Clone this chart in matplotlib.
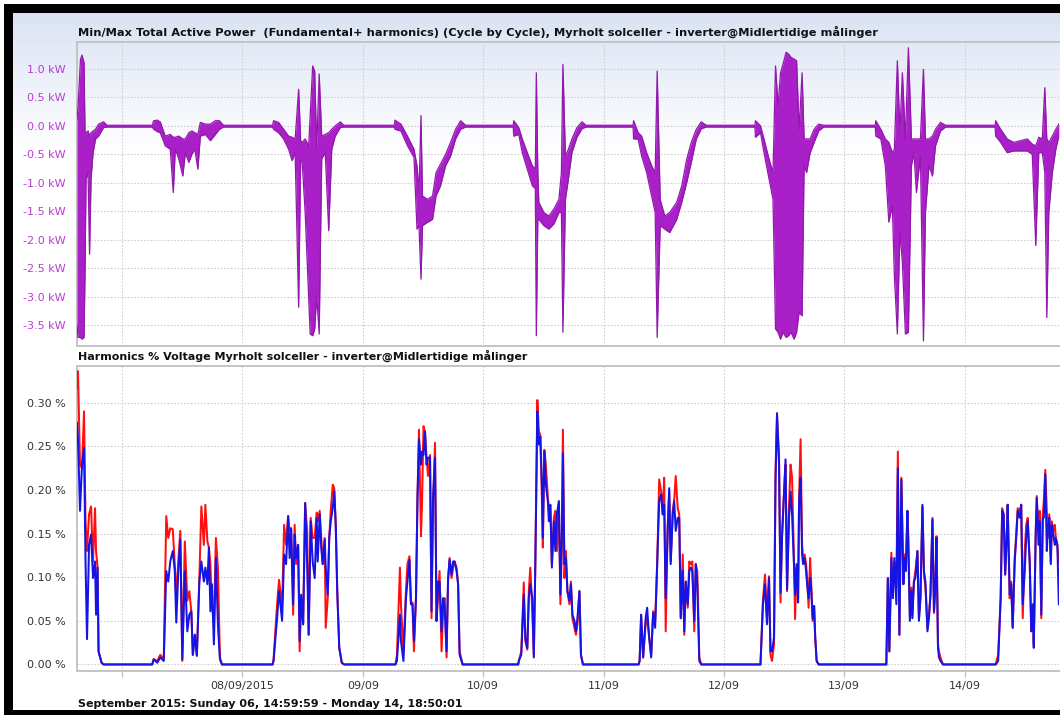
import numpy as np
import pandas as pd
import matplotlib
matplotlib.use("Agg")
import matplotlib.pyplot as plt
import matplotlib.dates as mdates
from matplotlib.patches import Rectangle
from matplotlib.ticker import FixedLocator, FuncFormatter

# ---- data (hours counted from 06/09/2015 00:00) ----
# top panel: min / max total active power per cycle, kW
power_hours = [
    15.0, 15.2, 15.7, 16.0, 16.4, 16.6, 16.8, 17.2, 17.5, 17.8, 18.2, 18.7, 19.3, 20.3, 21.0,
    30.0,
    30.3, 31.0, 31.6, 32.6, 33.6, 34.2, 34.6, 35.3, 36.1, 36.6, 37.3, 37.9, 38.5, 39.1, 39.6, 40.6, 41.6, 42.6, 43.4, 44.2,
    54.0,
    54.2, 55.2, 56.2, 57.2, 57.9, 58.5, 59.2, 59.6, 59.9, 60.5, 61.2, 61.5, 62.0, 62.4, 62.8, 63.3, 63.8, 64.5, 65.2, 65.8, 66.5, 67.5, 68.2,
    78.3,
    78.4, 79.6, 80.9, 82.2, 82.8, 83.2, 83.6, 83.9, 84.9, 85.9, 86.6, 87.5, 88.5, 89.5, 90.5, 91.5, 92.5,
    102.0,
    102.1, 103.1, 103.8, 104.8, 105.8, 106.4, 106.6, 106.9, 107.1, 108.1, 109.1, 110.1, 111.1, 111.6, 111.9, 112.4, 113.0, 113.7, 114.7, 115.7, 116.5,
    125.9,
    126.0, 126.9, 127.6, 128.6, 129.6, 130.3, 130.7, 131.3, 132.2, 133.2, 134.6, 135.6, 136.6, 137.5, 138.5, 139.5, 140.5,
    150.2,
    150.3, 151.3, 152.0, 153.0, 153.8, 154.3, 154.8, 155.3, 155.8, 156.4, 156.9, 157.4, 158.0, 158.5, 159.0, 159.6, 160.0, 160.5, 161.2, 162.0, 162.9, 163.9,
    174.2,
    174.3, 175.3, 176.2, 176.9, 177.6, 178.0, 178.6, 179.1, 179.6, 180.2, 180.8, 181.4, 181.9, 182.4, 183.2, 183.8, 184.2, 184.9, 185.6, 186.2, 187.2, 188.2,
    198.1,
    198.2, 199.2, 200.5, 201.8, 203.2, 204.5, 205.5, 206.2, 206.8, 207.5, 208.0, 208.4, 208.8, 209.5, 210.2, 210.8,
]
power_max = [
    0.12, 0.32, 1.17, 1.24, 1.11, -0.12, -0.12, -0.09, -0.18, -0.12, -0.09, -0.06, 0.03, 0.07, 0.01,
    0.01,
    0.09, 0.10, 0.07, -0.18, -0.15, -0.20, -0.20, -0.18, -0.23, -0.23, -0.12, -0.09, -0.12, -0.15, 0.06, 0.03, 0.03, 0.09, 0.09, 0.01,
    0.01,
    0.09, 0.06, -0.06, -0.18, -0.20, -0.23, 0.64, -0.26, -0.29, -0.23, -0.35, 0.18, 1.05, 0.96, -0.41, 0.91, -0.18, -0.15, -0.12, -0.06, 0.0, 0.07, 0.01,
    0.01,
    0.10, 0.03, -0.18, -0.41, -0.70, -1.17, 0.18, -1.23, -1.29, -1.23, -0.82, -0.67, -0.50, -0.29, -0.06, 0.09, 0.01,
    0.01,
    0.09, -0.03, -0.23, -0.47, -0.70, -0.76, 0.93, -0.82, -1.34, -1.52, -1.58, -1.46, -1.29, -0.82, 1.08, -0.53, -0.41, -0.23, -0.03, 0.07, 0.01,
    0.01,
    0.09, -0.12, -0.18, -0.47, -0.70, -0.82, 0.96, -1.29, -1.58, -1.52, -1.34, -1.05, -0.58, -0.29, -0.06, 0.07, 0.01,
    0.01,
    0.09, 0.0, -0.23, -0.58, -0.82, 1.05, 0.35, 0.93, 1.08, 1.29, 1.26, 1.20, 1.17, 1.14, -0.06, 0.93, -0.23, -0.23, -0.23, -0.06, 0.03, 0.01,
    0.01,
    0.09, -0.06, -0.23, -0.29, -0.47, -0.41, 1.14, -0.12, 0.93, -0.23, 1.37, -0.23, -0.23, -0.23, -0.23, 0.99, -0.23, -0.23, -0.18, -0.06, 0.06, 0.01,
    0.01,
    0.09, -0.06, -0.23, -0.29, -0.26, -0.23, -0.32, -0.35, -0.20, -0.23, 0.67, -0.23, -0.29, -0.18, -0.06, 0.03,
]
power_min = [
    -3.50, -3.71, -3.71, -3.74, -3.71, -2.57, -0.93, -0.82, -2.25, -0.93, -0.47, -0.23, -0.18, -0.03, -0.02,
    -0.02,
    -0.06, -0.10, -0.12, -0.35, -0.41, -1.17, -0.41, -0.58, -0.88, -0.47, -0.64, -0.50, -0.41, -0.76, -0.18, -0.15, -0.26, -0.15, -0.06, -0.02,
    -0.02,
    -0.06, -0.12, -0.23, -0.41, -0.61, -0.47, -3.18, -0.58, -0.64, -1.52, -3.04, -3.65, -3.68, -3.56, -2.98, -3.65, -0.58, -0.47, -1.84, -0.41, -0.18, -0.03, -0.02,
    -0.02,
    -0.06, -0.09, -0.35, -0.55, -1.81, -1.75, -2.69, -1.75, -1.69, -1.64, -1.23, -1.05, -0.70, -0.53, -0.23, -0.06, -0.02,
    -0.02,
    -0.18, -0.15, -0.47, -0.76, -1.05, -1.10, -3.68, -1.64, -1.64, -1.75, -1.81, -1.72, -1.52, -1.52, -3.62, -1.29, -0.93, -0.47, -0.20, -0.05, -0.02,
    -0.02,
    -0.23, -0.23, -0.53, -0.82, -1.23, -1.52, -3.71, -1.75, -1.81, -1.87, -1.64, -1.34, -0.99, -0.64, -0.23, -0.05, -0.02,
    -0.02,
    -0.20, -0.12, -0.47, -0.93, -1.29, -3.56, -3.62, -3.74, -3.62, -3.71, -3.68, -3.62, -3.74, -3.62, -3.27, -3.33, -0.70, -0.82, -0.47, -0.29, -0.09, -0.02,
    -0.02,
    -0.18, -0.23, -0.70, -1.69, -1.40, -2.63, -3.65, -1.87, -2.39, -3.65, -3.62, -0.70, -0.47, -1.17, -0.53, -3.77, -1.52, -0.70, -0.88, -0.35, -0.09, -0.02,
    -0.02,
    -0.18, -0.29, -0.47, -0.44, -0.44, -0.44, -0.50, -2.10, -0.47, -0.47, -0.82, -3.36, -1.52, -0.82, -0.41, -0.18,
]

# bottom panel: harmonics % voltage, red and blue series
thd_hours = [
    15.0, 15.2, 15.6, 16.0, 16.4, 16.7, 17.0, 17.4, 17.8, 18.2, 18.6, 18.8, 19.1, 19.3, 19.9, 20.3,
    30.0,
    30.3, 31.0, 31.6, 32.3, 32.8, 33.2, 33.6, 34.1, 34.5, 34.8, 35.2, 35.6, 36.0, 36.5, 37.0, 37.4, 37.8, 38.1, 38.5, 38.9,
    39.4, 39.8, 40.3, 40.6, 41.0, 41.3, 41.6, 41.9, 42.3, 42.7, 43.1, 43.5, 43.9,
    54.0,
    54.2, 54.9, 55.3, 55.9, 56.3, 56.7, 57.1, 57.4, 57.7, 58.1, 58.4, 58.7, 59.1, 59.4, 59.7, 60.1, 60.5, 60.9, 61.2, 61.6,
    62.0, 62.4, 62.8, 63.0, 63.4, 63.7, 64.0, 64.4, 64.6, 65.0, 65.3, 65.6, 66.0, 66.3, 66.6, 66.9, 67.3, 67.8, 68.3,
    78.5,
    78.8, 79.4, 79.6, 80.1, 80.6, 80.9, 81.3, 81.6, 81.9, 82.2, 82.6, 82.9, 83.2, 83.6, 83.8, 84.1, 84.4, 84.7, 85.0, 85.4,
    85.7, 86.0, 86.4, 86.7, 87.0, 87.3, 87.7, 88.0, 88.3, 88.7, 89.0, 89.3, 89.7, 90.0, 90.3, 90.7, 91.0, 91.3, 91.9,
    103.0,
    103.1, 103.6, 104.1, 104.4, 104.8, 105.1, 105.4, 105.8, 106.1, 106.4, 106.8, 107.1, 107.4, 107.7, 107.9, 108.2, 108.5, 108.9, 109.1, 109.4,
    109.7, 110.1, 110.4, 110.7, 111.1, 111.4, 111.7, 111.9, 112.2, 112.5, 112.8, 113.2, 113.5, 113.8, 114.2, 114.5, 114.8, 115.2, 115.5, 115.9,
    127.0,
    127.2, 127.5, 127.9, 128.4, 128.7, 129.1, 129.5, 129.9, 130.3, 130.7, 131.1, 131.5, 131.8, 132.1, 132.4, 132.8, 133.1, 133.4, 133.8, 134.1,
    134.4, 134.8, 135.1, 135.4, 135.8, 136.1, 136.4, 136.8, 137.1, 137.4, 137.7, 138.1, 138.4, 138.7, 139.1, 139.5,
    151.3,
    151.8, 152.2, 152.6, 153.0, 153.3, 153.6, 154.0, 154.3, 154.6, 155.0, 155.3, 155.6, 156.0, 156.3, 156.6, 157.0, 157.3, 157.6, 158.0, 158.2,
    158.5, 158.8, 159.0, 159.3, 159.6, 159.8, 160.1, 160.4, 160.6, 160.9, 161.2, 161.4, 161.7, 162.0, 162.2, 162.5, 162.9,
    176.4,
    176.7, 177.0, 177.4, 177.7, 178.0, 178.4, 178.7, 179.0, 179.4, 179.8, 180.0, 180.3, 180.6, 180.8, 181.1, 181.4, 181.6, 181.9, 182.2, 182.6,
    182.9, 183.2, 183.6, 183.9, 184.2, 184.6, 184.9, 185.2, 185.6, 185.9, 186.2, 186.4, 186.7, 186.9, 187.2, 187.7,
    198.2,
    198.7, 199.2, 199.5, 199.8, 200.1, 200.4, 200.6, 201.0, 201.3, 201.6, 202.0, 202.3, 202.6, 203.0, 203.3, 203.6, 204.0, 204.3, 204.6, 205.0,
    205.3, 205.6, 205.8, 206.2, 206.4, 206.8, 207.0, 207.3, 207.6, 207.8, 208.1, 208.4, 208.6, 208.9, 209.2, 209.4, 209.7, 210.0, 210.2, 210.5, 210.8,
]
thd_blue = [
    0.277, 0.258, 0.176, 0.229, 0.248, 0.118, 0.029, 0.137, 0.149, 0.099, 0.118, 0.057, 0.111, 0.015, 0.002, 0,
    0,
    0.006, 0.002, 0.008, 0.004, 0.107, 0.095, 0.118, 0.130, 0.107, 0.048, 0.107, 0.143, 0.006, 0.107, 0.038, 0.057, 0.061, 0.011, 0.034, 0.010,
    0.095, 0.118, 0.095, 0.111, 0.092, 0.134, 0.061, 0.092, 0.023, 0.122, 0.046, 0.006, 0,
    0,
    0.004, 0.053, 0.084, 0.050, 0.126, 0.115, 0.170, 0.122, 0.156, 0.069, 0.149, 0.122, 0.137, 0.027, 0.080, 0.046, 0.185, 0.115, 0.034, 0.164,
    0.118, 0.099, 0.168, 0.118, 0.172, 0.134, 0.115, 0.143, 0.111, 0.080, 0.145, 0.164, 0.179, 0.198, 0.160, 0.084, 0.019, 0.002, 0,
    0,
    0.004, 0.057, 0.027, 0.004, 0.076, 0.095, 0.120, 0.069, 0.069, 0.027, 0.076, 0.191, 0.258, 0.229, 0.244, 0.240, 0.267, 0.229, 0.237, 0.237,
    0.061, 0.191, 0.237, 0.050, 0.095, 0.095, 0.038, 0.076, 0.069, 0.015, 0.099, 0.120, 0.103, 0.118, 0.118, 0.107, 0.092, 0.011, 0,
    0,
    0.004, 0.011, 0.080, 0.031, 0.019, 0.076, 0.092, 0.076, 0.008, 0.115, 0.290, 0.252, 0.261, 0.210, 0.145, 0.244, 0.206, 0.187, 0.164, 0.183,
    0.111, 0.164, 0.130, 0.172, 0.187, 0.080, 0.153, 0.242, 0.115, 0.122, 0.084, 0.073, 0.092, 0.057, 0.050, 0.038, 0.053, 0.084, 0.011, 0,
    0,
    0.004, 0.057, 0.008, 0.053, 0.065, 0.031, 0.008, 0.059, 0.042, 0.115, 0.187, 0.195, 0.172, 0.183, 0.076, 0.153, 0.202, 0.115, 0.172, 0.187,
    0.153, 0.168, 0.168, 0.053, 0.107, 0.038, 0.095, 0.069, 0.107, 0.111, 0.107, 0.050, 0.115, 0.092, 0.004, 0,
    0,
    0.069, 0.092, 0.046, 0.099, 0.015, 0.015, 0.031, 0.210, 0.288, 0.229, 0.082, 0.145, 0.198, 0.235, 0.086, 0.168, 0.198, 0.172, 0.111, 0.080,
    0.115, 0.071, 0.187, 0.214, 0.126, 0.115, 0.122, 0.107, 0.092, 0.076, 0.099, 0.088, 0.053, 0.067, 0.034, 0.004, 0,
    0,
    0.099, 0.015, 0.122, 0.076, 0.122, 0.069, 0.225, 0.034, 0.212, 0.092, 0.122, 0.107, 0.176, 0.130, 0.050, 0.084, 0.053, 0.095, 0.099, 0.130,
    0.050, 0.076, 0.183, 0.107, 0.095, 0.038, 0.053, 0.080, 0.166, 0.061, 0.092, 0.145, 0.019, 0.008, 0.004, 0,
    0,
    0.004, 0.076, 0.176, 0.172, 0.103, 0.145, 0.183, 0.080, 0.092, 0.042, 0.118, 0.145, 0.176, 0.168, 0.183, 0.069, 0.107, 0.145, 0.164, 0.115,
    0.038, 0.069, 0.019, 0.153, 0.191, 0.137, 0.164, 0.057, 0.168, 0.168, 0.218, 0.130, 0.153, 0.168, 0.115, 0.160, 0.149, 0.137, 0.145, 0.137, 0.069,
]
thd_red = [
    0.317, 0.336, 0.229, 0.225, 0.290, 0.164, 0.130, 0.172, 0.181, 0.118, 0.179, 0.130, 0.111, 0.015, 0.002, 0,
    0,
    0.006, 0.004, 0.011, 0.006, 0.170, 0.145, 0.156, 0.155, 0.115, 0.076, 0.118, 0.153, 0.004, 0.141, 0.073, 0.084, 0.061, 0.011, 0.034, 0.010,
    0.099, 0.181, 0.137, 0.183, 0.141, 0.134, 0.115, 0.069, 0.046, 0.145, 0.111, 0.008, 0,
    0,
    0.006, 0.069, 0.097, 0.065, 0.160, 0.137, 0.170, 0.153, 0.156, 0.057, 0.160, 0.115, 0.137, 0.015, 0.076, 0.046, 0.185, 0.153, 0.034, 0.168,
    0.145, 0.145, 0.174, 0.164, 0.176, 0.145, 0.115, 0.145, 0.042, 0.076, 0.145, 0.176, 0.206, 0.202, 0.160, 0.084, 0.019, 0.002, 0,
    0,
    0.011, 0.111, 0.069, 0.015, 0.084, 0.115, 0.124, 0.069, 0.071, 0.015, 0.076, 0.191, 0.269, 0.147, 0.183, 0.273, 0.267, 0.237, 0.216, 0.240,
    0.053, 0.183, 0.254, 0.050, 0.076, 0.107, 0.015, 0.061, 0.076, 0.008, 0.095, 0.122, 0.099, 0.111, 0.118, 0.111, 0.092, 0.015, 0,
    0,
    0.004, 0.015, 0.094, 0.027, 0.017, 0.084, 0.111, 0.061, 0.011, 0.115, 0.303, 0.267, 0.263, 0.191, 0.134, 0.246, 0.229, 0.191, 0.179, 0.179,
    0.115, 0.168, 0.176, 0.130, 0.187, 0.069, 0.137, 0.269, 0.099, 0.130, 0.084, 0.069, 0.095, 0.053, 0.042, 0.034, 0.046, 0.084, 0.011, 0,
    0,
    0.004, 0.057, 0.008, 0.046, 0.053, 0.031, 0.011, 0.061, 0.050, 0.115, 0.212, 0.198, 0.172, 0.214, 0.038, 0.160, 0.198, 0.118, 0.176, 0.189,
    0.216, 0.179, 0.172, 0.053, 0.126, 0.034, 0.095, 0.065, 0.118, 0.115, 0.118, 0.038, 0.115, 0.107, 0.008, 0,
    0,
    0.074, 0.103, 0.053, 0.101, 0.011, 0.004, 0.023, 0.221, 0.284, 0.240, 0.071, 0.149, 0.198, 0.229, 0.084, 0.183, 0.229, 0.214, 0.115, 0.052,
    0.111, 0.076, 0.191, 0.258, 0.137, 0.122, 0.126, 0.115, 0.099, 0.065, 0.122, 0.095, 0.050, 0.067, 0.031, 0.004, 0,
    0,
    0.099, 0.015, 0.128, 0.076, 0.118, 0.088, 0.244, 0.034, 0.214, 0.092, 0.126, 0.115, 0.176, 0.145, 0.053, 0.088, 0.057, 0.095, 0.107, 0.130,
    0.053, 0.076, 0.181, 0.103, 0.088, 0.042, 0.057, 0.080, 0.168, 0.059, 0.095, 0.147, 0.023, 0.015, 0.008, 0,
    0,
    0.011, 0.076, 0.179, 0.172, 0.103, 0.145, 0.183, 0.076, 0.095, 0.042, 0.122, 0.149, 0.179, 0.176, 0.183, 0.053, 0.130, 0.160, 0.168, 0.118,
    0.038, 0.065, 0.023, 0.153, 0.193, 0.137, 0.176, 0.053, 0.172, 0.187, 0.223, 0.176, 0.145, 0.172, 0.118, 0.164, 0.153, 0.160, 0.145, 0.137, 0.115,
]

power_ticks = [1.0, 0.5, 0.0, -0.5, -1.0, -1.5, -2.0, -2.5, -3.0, -3.5]
thd_ticks = [0.00, 0.05, 0.10, 0.15, 0.20, 0.25, 0.30]

title_top = ("Min/Max Total Active Power  (Fundamental+ harmonics) (Cycle by Cycle), "
             "Myrholt solceller - inverter@Midlertidige målinger")
title_bottom = "Harmonics % Voltage Myrholt solceller - inverter@Midlertidige målinger"
footer = "September 2015: Sunday 06, 14:59:59 - Monday 14, 18:50:01"

t_start = pd.Timestamp("2015-09-06 14:59:59")
t_end = pd.Timestamp("2015-09-14 18:50:01")
day0 = pd.Timestamp("2015-09-06")

power_t = (day0 + pd.to_timedelta(power_hours, unit="h")).to_numpy()
thd_t = (day0 + pd.to_timedelta(thd_hours, unit="h")).to_numpy()

plt.rcParams["font.family"] = ["DejaVu Sans"]

W, H = 1060, 715
fig = plt.figure(figsize=(W / 100, H / 100), dpi=100)
fig.patch.set_facecolor("white")


def px_box(left, top, right, bottom):
    return [left / W, 1 - bottom / H, (right - left) / W, (bottom - top) / H]


# frame + light blue gradient behind the upper panel
bg = fig.add_axes([0, 0, 1, 1])
bg.set_xlim(0, W)
bg.set_ylim(H, 0)
bg.axis("off")
bg.add_patch(Rectangle((4, 4), W, H, facecolor="black", edgecolor="none"))
bg.add_patch(Rectangle((13, 13), W, 697, facecolor="white", edgecolor="none"))
top_col = np.array([0.855, 0.886, 0.953])
grad = np.linspace(0, 1, 200)[:, None, None]
grad_img = top_col + (1 - top_col) * grad
bg.imshow(grad_img, extent=(13, W, 150, 13), aspect="auto", interpolation="bilinear", zorder=1)

grid_kw = dict(color="#cfcfcf", linestyle=(0, (1.5, 1.5)), linewidth=0.8)
spine_col = "#c4c4c4"

ax1 = fig.add_axes(px_box(77, 42, 1059, 346))
ax2 = fig.add_axes(px_box(77, 366, 1059, 671), sharex=ax1)
ax1.set_facecolor("none")
ax2.set_facecolor("white")

for ax in (ax1, ax2):
    for side in ("top", "left", "bottom"):
        ax.spines[side].set_color(spine_col)
        ax.spines[side].set_linewidth(1.4)
    ax.spines["right"].set_visible(False)
    ax.grid(True, **grid_kw)
    ax.set_axisbelow(True)

# top panel
purple = "#aa20c8"
ax1.fill_between(power_t, power_min, power_max, color=purple, lw=0, zorder=3)
ax1.plot(power_t, power_max, color="#9018aa", lw=0.9, zorder=4)
ax1.plot(power_t, power_min, color="#9018aa", lw=0.9, zorder=4)
ax1.set_ylim(-3.86, 1.47)
ax1.yaxis.set_major_locator(FixedLocator(power_ticks))
ax1.yaxis.set_major_formatter(FuncFormatter(lambda v, p: f"{v:.1f} kW"))
ax1.tick_params(axis="y", length=0, pad=8, labelsize=8, labelcolor="#b83cd2")
ax1.tick_params(axis="x", length=0, labelbottom=False)

# bottom panel
ax2.plot(thd_t, thd_red, color="#ff1010", lw=1.45, zorder=3)
ax2.plot(thd_t, thd_blue, color="#1414e6", lw=1.45, zorder=4)
ax2.set_ylim(-0.0075, 0.342)
ax2.yaxis.set_major_locator(FixedLocator(thd_ticks))
ax2.yaxis.set_major_formatter(FuncFormatter(lambda v, p: f"{v:.2f} %"))
ax2.tick_params(axis="y", length=0, pad=8, labelsize=8, labelcolor="#333333")

ax2.set_xlim(t_start, t_end)
ax2.xaxis.set_major_locator(mdates.DayLocator())


def day_label(v, pos):
    d = mdates.num2date(v)
    if d.day == 7:
        return ""
    if d.day == 8:
        return d.strftime("%d/%m/%Y")
    return d.strftime("%d/%m")


ax2.xaxis.set_major_formatter(FuncFormatter(day_label))
ax2.tick_params(axis="x", length=4, width=1, color="#c4c4c4", pad=3, labelsize=8, labelcolor="#333333")

fig.text(78 / W, 1 - 32 / H, title_top, fontsize=8.2, fontweight="bold", color="#111111", va="center", ha="left")
fig.text(78 / W, 1 - 356 / H, title_bottom, fontsize=8, fontweight="bold", color="#111111", va="center", ha="left")
fig.text(78 / W, 1 - 704 / H, footer, fontsize=8, fontweight="bold", color="#111111", va="center", ha="left")

fig.savefig("out.png", dpi=100, facecolor=fig.get_facecolor())
